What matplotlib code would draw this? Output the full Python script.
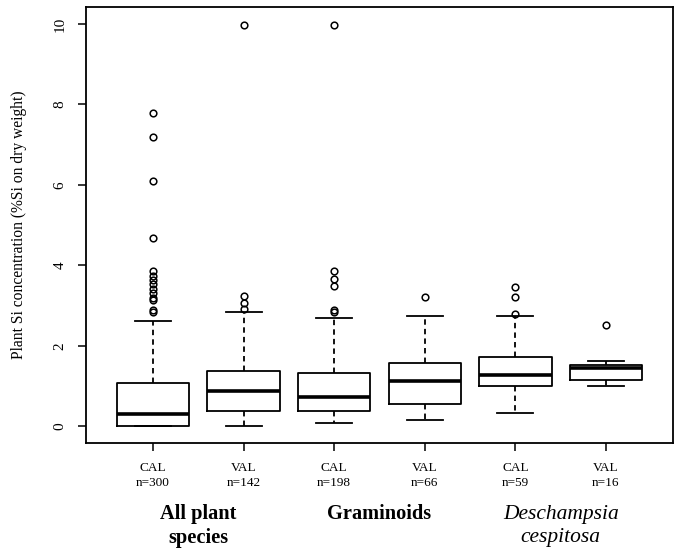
import numpy as np
import matplotlib
matplotlib.use("Agg")
import matplotlib.pyplot as plt

plt.rcParams['font.family'] = ['Liberation Serif', 'DejaVu Serif']

# box statistics (%Si on dry weight)
labels = ['CAL\nn=300', 'VAL\nn=142', 'CAL\nn=198', 'VAL\nn=66', 'CAL\nn=59', 'VAL\nn=16']
whislo = [0.0, 0.0, 0.07, 0.15, 0.32, 1.0]
q1 = [0.01, 0.37, 0.37, 0.56, 1.0, 1.16]
med = [0.31, 0.87, 0.73, 1.13, 1.26, 1.44]
q3 = [1.08, 1.37, 1.33, 1.57, 1.72, 1.53]
whishi = [2.62, 2.85, 2.69, 2.74, 2.74, 1.63]
fliers = [
    [2.83, 2.89, 3.14, 3.19, 3.31, 3.42, 3.53, 3.63, 3.74, 3.87, 4.67, 6.1, 7.2, 7.78],
    [2.92, 3.06, 3.23, 9.98],
    [2.84, 2.9, 3.48, 3.65, 3.87, 9.98],
    [3.22],
    [2.8, 3.22, 3.47],
    [2.52],
]
groups = ['All plant\nspecies', 'Graminoids', 'Deschampsia\ncespitosa']

stats = []
for i in range(len(labels)):
    stats.append(dict(label=labels[i], whislo=whislo[i], q1=q1[i], med=med[i],
                      q3=q3[i], whishi=whishi[i], fliers=fliers[i]))

fig = plt.figure(figsize=(6.8, 5.49), dpi=100)
ax = fig.add_axes([0.1265, 0.193, 0.8632, 0.794])

ax.bxp(stats, positions=np.arange(1, 7), widths=0.8,
       boxprops=dict(color='black', linewidth=1.3),
       medianprops=dict(color='black', linewidth=2.6, solid_capstyle='butt'),
       whiskerprops=dict(color='black', linewidth=1.3, linestyle=(0, (3, 2.3))),
       capprops=dict(color='black', linewidth=1.3),
       flierprops=dict(marker='o', markerfacecolor='none', markeredgecolor='black',
                       markersize=4.8, markeredgewidth=1.1))

ax.set_xlim(0.26, 6.74)
ax.set_ylim(-0.42, 10.42)
ax.set_yticks([0, 2, 4, 6, 8, 10])
ax.set_yticklabels(['0', '2', '4', '6', '8', '10'], rotation=90, va='center', fontsize=11)
ax.set_xticks(np.arange(1, 7))
ax.set_xticklabels(labels, fontsize=9.5, linespacing=1.25)
ax.tick_params(direction='out', length=6, width=1.1, pad=8)
for s in ax.spines.values():
    s.set_linewidth(1.3)

ax.set_ylabel('Plant Si concentration (%Si on dry weight)', fontsize=11.2, labelpad=19)

# group labels under the tick labels
xt = ax.get_xaxis_transform()
ax.text(1.5, -0.19, groups[0], transform=xt, ha='center', va='center',
        fontsize=14.7, fontweight='bold', linespacing=1.3)
ax.text(3.5, -0.163, groups[1], transform=xt, ha='center', va='center',
        fontsize=14.7, fontweight='bold')
ax.text(5.5, -0.19, groups[2], transform=xt, ha='center', va='center',
        fontsize=15.5, style='italic', linespacing=1.25)

fig.savefig('out.png', dpi=100)
